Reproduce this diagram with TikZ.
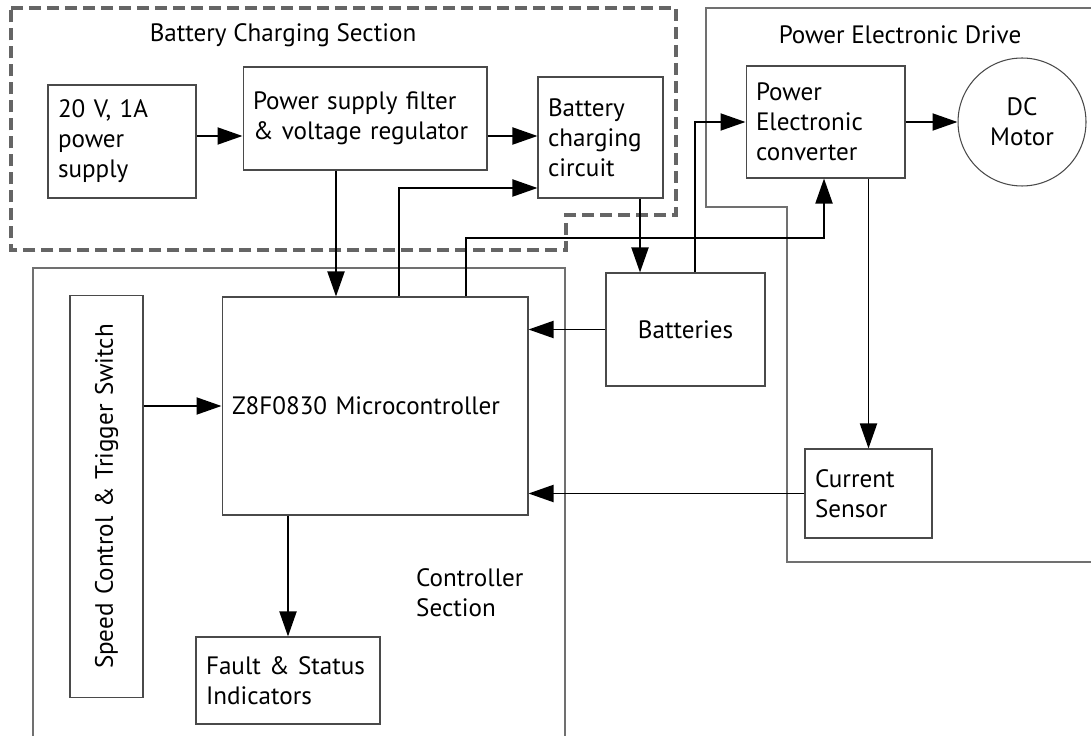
\documentclass[tikz,border=0pt]{standalone}
\usepackage{fontspec}
\setmainfont{PT Sans}
\usetikzlibrary{arrows.meta, positioning}

\definecolor{boxgray}{HTML}{4A4A4A}
\definecolor{secgray}{HTML}{707070}
\definecolor{dashgray}{HTML}{656565}

\begin{document}
\begin{tikzpicture}[
      x=0.02cm, y=-0.02cm,
      >={Triangle[length=0.5cm,width=0.34cm]},
      font=\fontsize{14.3}{17}\selectfont,
      block/.style={
        rectangle, draw=boxgray, line width=0.6pt, align=left,
        inner xsep=0.2cm, inner ysep=0pt
      },
      section/.style={draw=secgray, line width=1.1pt},
      link/.style={->, line width=1.1pt}
    ]
    \useasboundingbox (0,0) rectangle (1091,736);

    % section outlines
    \draw[section, draw=dashgray, dash pattern=on 0.24cm off 0.12cm, line width=2.1pt]
      (11,8) -- (676,8) -- (676,215) -- (566,215) -- (566,250) -- (11,250) -- cycle;
    \draw[section] (1091,8) -- (706,8) -- (706,207) -- (787,207) -- (787,562) -- (1091,562);
    \draw[section] (33,736) -- (33,268) -- (565,268) -- (565,736);

    \node (bcstitle) at (283,35) {Battery Charging Section};
    \node (pedtitle) at (900,35) {Power Electronic Drive};
    \node[align=left, anchor=west] (ctltitle) at (410,593) {Controller\\Section};

    % blocks
    \node[block, text width=2.56cm, minimum height=2.26cm] (ps) at (122,141.5)
      {20 V, 1A\\power\\supply};
    \node[block, text width=4.48cm, minimum height=2.06cm] (filter) at (365,118.5)
      {Power supply filter\\\& voltage regulator};
    \node[block, text width=2.1cm, minimum height=2.42cm] (bcc) at (600.5,137.5)
      {Battery\\charging\\circuit};
    \node[block, text width=2.78cm, minimum height=2.24cm] (conv) at (825.5,122)
      {Power\\Electronic\\converter};
    \node[circle, draw=boxgray, line width=0.6pt, minimum size=2.56cm, align=center, inner sep=0pt]
      (motor) at (1022,122) {DC\\Motor};
    \node[block, align=center, text width=2.78cm, minimum height=2.26cm] (bat) at (685.5,329.5)
      {Batteries};
    \node[block, text width=2.14cm, minimum height=1.78cm] (cs) at (868.5,493.5)
      {Current\\Sensor};
    \node[block, align=center, rotate=90, text width=7.66cm, minimum height=1.46cm] (speed)
      at (106.5,496.5) {Speed Control \& Trigger Switch};
    \node[block, text width=5.72cm, minimum height=4.36cm] (micro) at (375,406)
      {Z8F0830 Microcontroller};
    \node[block, text width=3.28cm, minimum height=1.74cm] (fault) at (288,680.5)
      {Fault \& Status\\Indicators};

    % tap points of the connectors
    \coordinate (row) at (0,136);
    \coordinate (c1) at (336,0);
    \coordinate (c2) at (399,188);
    \coordinate (c3) at (466,238);
    \coordinate (c4) at (824,0);
    \coordinate (c5) at (695,0);
    \coordinate (c6) at (640,0);

    \draw[link] (ps.east |- row) -- (filter.west |- row);
    \draw[link] (filter.east |- row) -- (bcc.west |- row);
    \draw[link] (filter.south -| c1) -- (micro.north -| c1);
    \draw[link] (micro.north -| c2) |- (bcc.west |- c2);
    \draw[link] (micro.north -| c3) -- (c3) -| (conv.south -| c4);
    \draw[link] (bcc.south -| c6) -- (bat.north -| c6);
    \draw[link] (bat.north -| c5) |- (conv.west);
    \draw[link] (conv.east) -- (motor.west);
    \draw[link] (cs.north |- conv.south) -- (cs.north);
    \draw[link] (bat.west) -- (micro.east |- bat.west);
    \draw[link] (cs.west) -- (micro.east |- cs.west);
    \draw[link] (speed.south |- micro.west) -- (micro.west);
    \draw[link] (micro.south -| fault.north) -- (fault.north);
  \end{tikzpicture}
\end{document}
